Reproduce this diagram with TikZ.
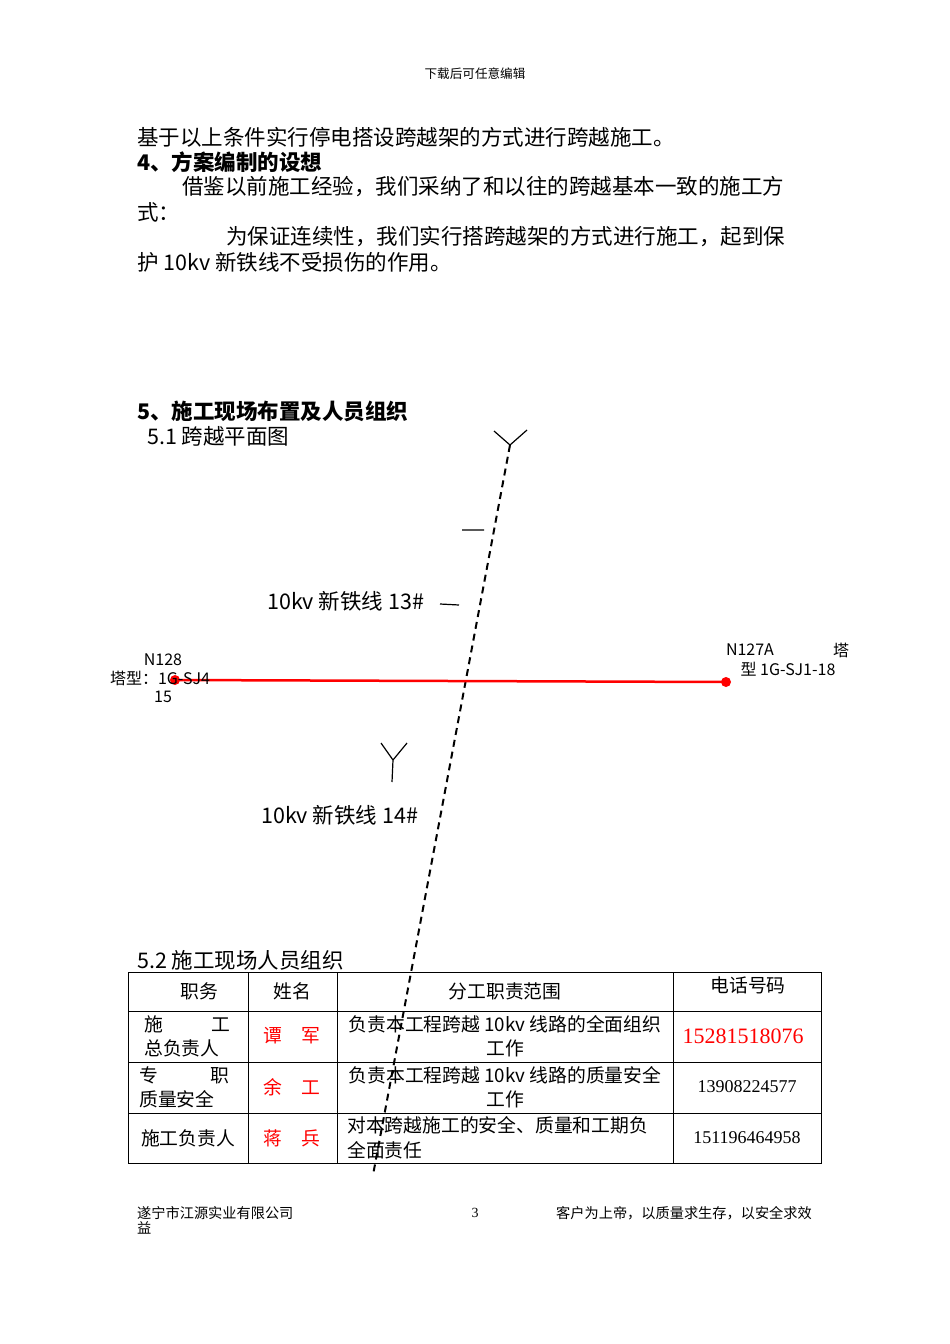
\documentclass[tikz,border=0pt]{standalone}
\usepackage{fontspec}
\setmainfont{Liberation Serif}
\newfontfamily\cjk{Noto Sans CJK SC}
\begin{document}
\begin{tikzpicture}[x=1pt,y=-1pt,
  body/.style={font=\fontsize{21.5}{23}\selectfont\cjk,inner sep=0pt,anchor=west},
  bd/.style={font=\fontsize{21.5}{23}\selectfont\cjk\bfseries,inner sep=0pt,anchor=west},
  sm/.style={font=\fontsize{16}{18}\selectfont\cjk,inner sep=0pt},
  cell/.style={font=\fontsize{18.8}{20}\selectfont\cjk,inner sep=0pt},
  redc/.style={cell,text=red},
  ft/.style={font=\fontsize{14.2}{16}\selectfont\cjk,inner sep=0pt},
  tb/.style={line width=0.6pt}]
\useasboundingbox (0,0) rectangle (950,1344);
\node[font=\fontsize{12.6}{14}\selectfont\cjk] (hd) at (475,74) {下载后可任意编辑};
\node[body] (l1) at (137,137) {基于以上条件实行停电搭设跨越架的方式进行跨越施工。};
\node[bd] (l2) at (137,162) {4、方案编制的设想};
\node[body] (l3) at (182,187) {借鉴以前施工经验，我们采纳了和以往的跨越基本一致的施工方};
\node[body] (l4) at (137,212) {式：};
\node[body] (l5) at (226,237) {为保证连续性，我们实行搭跨越架的方式进行施工，起到保};
\node[body] (l6) at (137,262) {护 10kv 新铁线不受损伤的作用。};
\node[bd] (l7) at (137,411) {5、施工现场布置及人员组织};
\node[body] (l8) at (147,436) {5.1 跨越平面图};
% crossing line
\coordinate (dtop) at (510,445);
\coordinate (dbot) at (373,1175);
\draw[line width=2pt,dash pattern=on 7pt off 5pt] (dtop) -- (dbot);
\draw[line width=1.2pt] (dtop) -- (494,431) (dtop) -- (527,430);
\draw[line width=1.2pt] (462,530) -- (484,530) (440,604) -- (459,605);
\node[body] (t13) at (267,601) {10kv 新铁线 13\#};
\coordinate (ya) at (393,760);
\draw[line width=1.2pt] (ya) -- (381,743) (ya) -- (407,743) (ya) -- (392,782);
\node[body] (t14) at (261,815) {10kv 新铁线 14\#};
% red line
\coordinate (ra) at (175,680);
\coordinate (rb) at (726,682);
\draw[red,line width=2.5pt] (ra) -- (rb);
\fill[red] (ra) circle (5pt) (rb) circle (5pt);
\node[sm] (n128) at (163,660) {N128};
\node[sm] (tx1) at (160,678) {塔型：1G-SJ4};
\node[sm] (n15) at (163,697) {15};
\node[sm] (n127) at (750,650) {N127A};
\node[sm] (ta) at (841,650) {塔};
\node[sm] (tx2) at (788,669) {型 1G-SJ1-18};
\node[body] (l9) at (137,960) {5.2 施工现场人员组织};
% table
\draw[tb] (128,972) rectangle (821,1163);
\foreach \yy in {1011,1062,1113} \draw[tb] (128,\yy) -- (821,\yy);
\foreach \xx in {248,337,673} \draw[tb] (\xx,972) -- (\xx,1163);
\node[cell] (h1) at (199,991) {职务};
\node[cell] (h2) at (292,991) {姓名};
\node[cell] (h3) at (505,991) {分工职责范围};
\node[cell] (h4) at (748,985) {电话号码};
\node[cell,anchor=west] (a1) at (144,1024) {施\hspace{2.6em}工};
\node[cell,anchor=west] (a2) at (144,1048) {总负责人};
\node[redc] (a3) at (292,1036) {谭\hspace{1em}军};
\node[cell] (a4) at (505,1024) {负责本工程跨越 10kv 线路的全面组织};
\node[cell] (a5) at (505,1048) {工作};
\node[redc,font=\fontsize{22}{24}\selectfont] (a6) at (743,1036) {15281518076};
\node[cell,anchor=west] (b1) at (139,1075) {专\hspace{2.8em}职};
\node[cell,anchor=west] (b2) at (139,1099) {质量安全};
\node[redc] (b3) at (292,1087) {余\hspace{1em}工};
\node[cell] (b4) at (505,1075) {负责本工程跨越 10kv 线路的质量安全};
\node[cell] (b5) at (505,1099) {工作};
\node[cell,font=\fontsize{18}{20}\selectfont] (b6) at (747,1087) {13908224577};
\node[cell] (c1) at (188,1138) {施工负责人};
\node[redc] (c3) at (292,1138) {蒋\hspace{1em}兵};
\node[cell,anchor=west] (c4) at (347,1125) {对本跨越施工的安全、质量和工期负};
\node[cell,anchor=west] (c5) at (347,1150) {全面责任};
\node[cell,font=\fontsize{18}{20}\selectfont] (c6) at (747,1138) {151196464958};
% footer
\node[ft,anchor=west] (f1) at (137,1213) {遂宁市江源实业有限公司};
\node[ft,anchor=west] (f2) at (137,1228) {益};
\node[ft,font=\fontsize{14}{16}\selectfont] (f3) at (475,1213) {3};
\node[ft,anchor=east] (f4) at (812,1213) {客户为上帝，以质量求生存，以安全求效};
\end{tikzpicture}
\end{document}
